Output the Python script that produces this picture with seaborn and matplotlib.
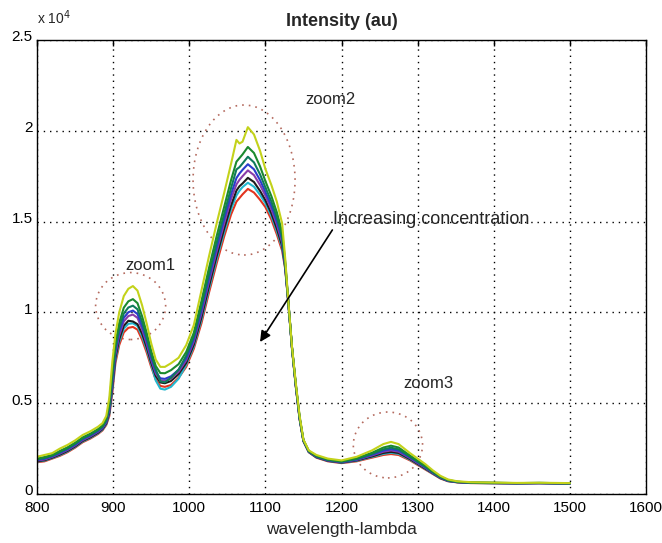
import matplotlib
matplotlib.use("Agg")
import matplotlib.pyplot as plt
from matplotlib.patches import Ellipse
from matplotlib.transforms import ScaledTranslation
import numpy as np
import pandas as pd
import seaborn as sns

# ---------------- data ----------------
wavelength = [800, 810, 820, 830, 840, 850, 860, 870, 880, 886,
              891, 895, 899, 903, 908, 914, 920, 926, 932, 938,
              944, 950, 956, 962, 968, 976, 986, 996, 1006, 1016,
              1026, 1036, 1046, 1055, 1062, 1066, 1070, 1077, 1085, 1093,
              1100, 1108, 1115, 1122, 1126, 1130, 1135, 1140, 1145, 1150,
              1157, 1167, 1182, 1200, 1220, 1240, 1255, 1265, 1275, 1290,
              1300, 1310, 1320, 1330, 1340, 1352, 1370, 1400, 1430, 1460,
              1500]

s_yellow = [2050, 2150, 2250, 2500, 2700, 2950, 3250, 3450, 3700, 3900,
            4300, 5300, 7300, 8800, 10000, 10900, 11300, 11450, 11200, 10400,
            9400, 8300, 7400, 7000, 7000, 7200, 7500, 8200, 9300, 11200,
            13100, 14900, 16600, 18200, 19500, 19300, 19400, 20200, 19800, 18900,
            17900, 17000, 16100, 14900, 13000, 10700, 8100, 6100, 4300, 3000,
            2400, 2150, 1950, 1850, 2050, 2400, 2750, 2870, 2750, 2250,
            1950, 1650, 1300, 1000, 800, 700, 650, 630, 610, 620,
            600]

s_green = [1950, 2040, 2150, 2370, 2570, 2820, 3120, 3320, 3570, 3770,
           4140, 4980, 6760, 8290, 9420, 10260, 10610, 10730, 10510, 9790,
           8890, 7880, 7050, 6660, 6650, 6820, 7150, 7820, 8880, 10620,
           12460, 14200, 15830, 17300, 18300, 18500, 18700, 19110, 18780, 18040,
           17230, 16390, 15520, 14420, 12810, 10670, 8070, 6040, 4240, 2970,
           2370, 2100, 1900, 1800, 1970, 2270, 2560, 2660, 2560, 2120,
           1840, 1550, 1240, 950, 770, 680, 630, 620, 600, 610,
           590]

s_teal = [1910, 1980, 2110, 2310, 2510, 2760, 3060, 3260, 3510, 3710,
          4060, 4820, 6480, 8030, 9140, 9940, 10270, 10370, 10170, 9490,
          8630, 7680, 6870, 6200, 6150, 6400, 6850, 7620, 8680, 10340,
          12140, 13840, 15450, 16860, 17870, 18000, 18200, 18570, 18260, 17600,
          16890, 16090, 15240, 14180, 12710, 10650, 8050, 6000, 4200, 2950,
          2350, 2080, 1880, 1780, 1930, 2210, 2460, 2550, 2460, 2060,
          1780, 1510, 1200, 930, 750, 670, 630, 610, 600, 610,
          590]

s_blue = [1870, 1940, 2070, 2260, 2460, 2710, 3010, 3210, 3460, 3660,
          4000, 4700, 6280, 7840, 8920, 9700, 10010, 10100, 9910, 9260,
          8440, 7520, 6740, 6370, 6340, 6480, 6840, 7480, 8520, 10120,
          11900, 13580, 15160, 16520, 17400, 17650, 17850, 18160, 17880, 17280,
          16640, 15860, 15020, 14000, 12640, 10640, 8040, 5980, 4180, 2940,
          2340, 2060, 1860, 1760, 1900, 2160, 2390, 2470, 2390, 2010,
          1740, 1470, 1180, 910, 740, 660, 620, 610, 590, 600,
          580]

s_purple = [1840, 1900, 2040, 2220, 2420, 2670, 2970, 3170, 3420, 3620,
            3950, 4600, 6110, 7680, 8740, 9500, 9800, 9880, 9700, 9070,
            8280, 7390, 6630, 6270, 6230, 6360, 6730, 7360, 8390, 9940,
            11700, 13360, 14920, 16240, 17050, 17300, 17500, 17820, 17560, 17010,
            16430, 15670, 14840, 13850, 12580, 10630, 8030, 5960, 4160, 2930,
            2330, 2050, 1850, 1750, 1880, 2120, 2330, 2400, 2330, 1970,
            1700, 1440, 1160, 900, 730, 660, 620, 600, 590, 600,
            580]

s_black = [1800, 1860, 2000, 2170, 2370, 2620, 2920, 3120, 3370, 3570,
           3890, 4480, 5910, 7490, 8520, 9260, 9540, 9500, 9350, 8840,
           8090, 7230, 6500, 6140, 6100, 6220, 6600, 7220, 8230, 9720,
           11460, 13100, 14630, 15900, 16710, 16950, 17100, 17410, 17180, 16690,
           16180, 15440, 14620, 13670, 12510, 10620, 8020, 5940, 4140, 2920,
           2320, 2030, 1830, 1730, 1850, 2070, 2260, 2320, 2260, 1920,
           1660, 1400, 1140, 880, 720, 650, 610, 600, 590, 600,
           580]

s_cyan = [1780, 1840, 1980, 2140, 2340, 2590, 2890, 3090, 3340, 3540,
          3850, 4400, 5770, 7360, 8380, 9100, 9370, 9400, 9250, 8690,
          7960, 7130, 6250, 5800, 5750, 5900, 6350, 7120, 8130, 9580,
          11300, 12920, 14440, 15680, 16440, 16700, 16900, 17140, 16920, 16470,
          16010, 15290, 14480, 13550, 12460, 10610, 8010, 5920, 4120, 2910,
          2310, 2020, 1820, 1720, 1830, 2040, 2210, 2270, 2210, 1890,
          1640, 1380, 1120, 870, 710, 650, 610, 590, 580, 590,
          570]

s_red = [1750, 1800, 1950, 2100, 2300, 2550, 2850, 3050, 3300, 3500,
         3800, 4300, 5600, 7200, 8200, 8900, 9150, 9200, 9050, 8500,
         7800, 7000, 6300, 5950, 5900, 6000, 6400, 7000, 8000, 9400,
         11100, 12700, 14200, 15400, 16100, 16300, 16500, 16800, 16600, 16200,
         15800, 15100, 14300, 13400, 12400, 10600, 8000, 5900, 4100, 2900,
         2300, 2000, 1800, 1700, 1800, 2000, 2150, 2200, 2150, 1850,
         1600, 1350, 1100, 850, 700, 640, 600, 590, 580, 590,
         570]

series_names = ["red", "cyan", "black", "purple", "blue", "teal", "green", "yellow"]
series_values = [s_red, s_cyan, s_black, s_purple, s_blue, s_teal, s_green, s_yellow]
series_colors = ["#e2341f", "#22b8cf", "#1c1c1c", "#8a3ca8", "#2a3ccc", "#0f7a5c", "#1b8a2e", "#c3d21a"]

x_ticks = [800, 900, 1000, 1100, 1200, 1300, 1400, 1500, 1600]
y_ticks = [0, 5000, 10000, 15000, 20000, 25000]
y_tick_labels = ["0", "0.5", "1", "1.5", "2", "2.5"]

zoom_labels = ["zoom1", "zoom2", "zoom3"]
zoom_centers = [(923, 10350), (1072, 17290), (1261, 2700)]
zoom_sizes = [(92, 3690), (134, 8260), (91, 3630)]
zoom_label_pos = [(949, 12560), (1186, 21700), (1314, 6060)]

# ---------------- figure ----------------
sns.set_style("white")
plt.rcParams["font.family"] = ["Liberation Sans", "DejaVu Sans"]

rows = []
for name, vals in zip(series_names, series_values):
    for w, v in zip(wavelength, vals):
        rows.append((name, w, v))
df = pd.DataFrame(rows, columns=["series", "wavelength", "intensity"])

fig = plt.figure(figsize=(6.62, 5.43), dpi=100)
ax = fig.add_axes([37 / 662, 49 / 543, 609 / 662, 454 / 543])

sns.lineplot(data=df, x="wavelength", y="intensity", hue="series",
             hue_order=series_names, palette=dict(zip(series_names, series_colors)),
             estimator=None, sort=False, legend=False, linewidth=1.5, ax=ax)

ax.set_xlim(800, 1600)
ax.set_ylim(0, 25000)
ax.set_xticks(x_ticks)
ax.set_xticklabels([str(t) for t in x_ticks])
ax.set_yticks(y_ticks)
ax.set_yticklabels(y_tick_labels)
ax.tick_params(direction="in", length=4, width=1, labelsize=11, top=True, right=False,
               colors="black")
ax.tick_params(axis="x", pad=5)
ax.tick_params(axis="y", pad=3)
shift_up = ScaledTranslation(0, 3 / 72, fig.dpi_scale_trans)
for lab in ax.get_yticklabels():
    lab.set_transform(lab.get_transform() + shift_up)

ax.grid(True, linestyle=(0, (1, 3.5)), color="black", linewidth=1.0)
for sp in ax.spines.values():
    sp.set_color("black")
    sp.set_linewidth(1.0)

ax.set_xlabel("wavelength-lambda", fontsize=12.5, labelpad=5)
ax.set_ylabel("")
ax.set_title("Intensity (au)", fontsize=13, fontweight="bold", pad=10)
fig.text(37 / 662, 1 - 18 / 543, r"x 10$^4$", fontsize=10, ha="left", va="center")

for (cx, cy), (w, h) in zip(zoom_centers, zoom_sizes):
    ax.add_patch(Ellipse((cx, cy), w, h, fill=False, edgecolor="#b46a5e",
                         linestyle=(0, (1, 3)), linewidth=1.2))
for lbl, (lx, ly) in zip(zoom_labels, zoom_label_pos):
    ax.text(lx, ly, lbl, fontsize=12, ha="center", va="center")

ax.text(1189, 15090, "Increasing concentration", fontsize=13, ha="left", va="center")
ax.annotate("", xy=(1093, 8370), xytext=(1188, 14540),
            arrowprops=dict(arrowstyle="-|>", color="black", lw=1.2,
                            mutation_scale=16, shrinkA=0, shrinkB=0))

fig.savefig("out.png", dpi=100, facecolor="white")
